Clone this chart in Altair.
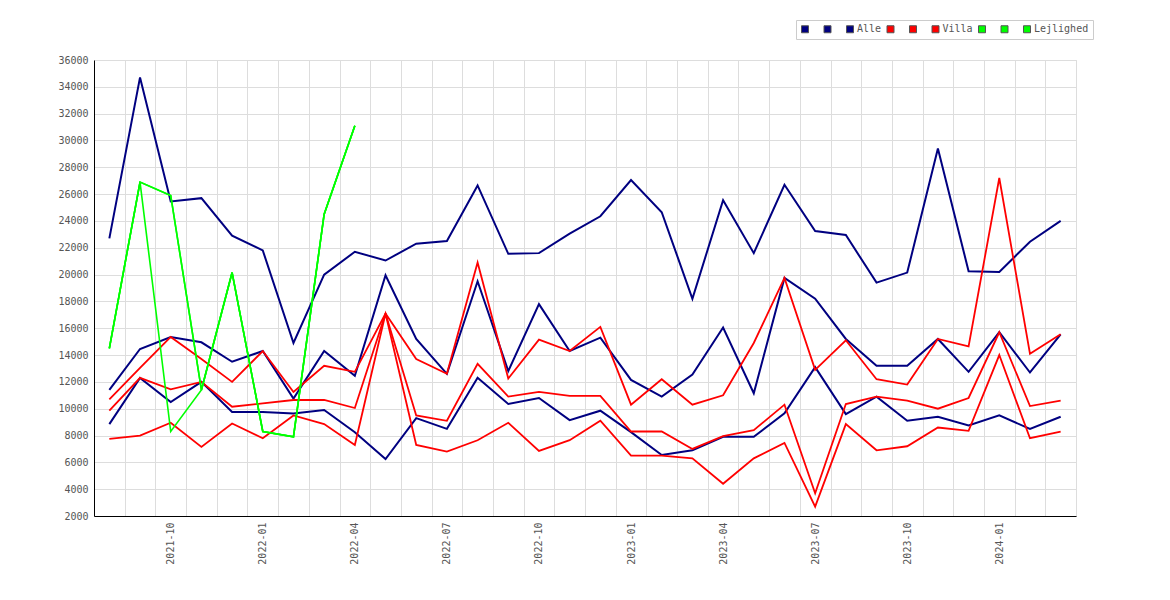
import altair as alt
import pandas as pd

months = [
    "2021-08", "2021-09", "2021-10", "2021-11", "2021-12",
    "2022-01", "2022-02", "2022-03", "2022-04", "2022-05", "2022-06",
    "2022-07", "2022-08", "2022-09", "2022-10", "2022-11", "2022-12",
    "2023-01", "2023-02", "2023-03", "2023-04", "2023-05", "2023-06",
    "2023-07", "2023-08", "2023-09", "2023-10", "2023-11", "2023-12",
    "2024-01", "2024-02", "2024-03",
]

alle_1 = [22700, 34700, 25450, 25700, 22900, 21800, 14900, 20000, 21700, 21050, 22300,
          22500, 26650, 21550, 21600, 23050, 24350, 27050, 24650, 18200, 25550, 21600,
          26700, 23250, 22950, 19400, 20150, 29400, 20250, 20200, 22450, 24000]
alle_2 = [11400, 14450, 15350, 14950, 13500, 14300, 10750, 14300, 12450, 19950, 15200,
          12600, 19500, 12800, 17800, 14300, 15300, 12150, 10900, 12550, 16050, 11150,
          19750, 18200, 15200, 13200, 13200, 15200, 12750, 15700, 12700, 15550]
alle_3 = [8850, 12300, 10500, 12000, 9750, 9750, 9650, 9900, 8250, 6250, 9300,
          8500, 12300, 10350, 10800, 9150, 9850, 8250, 6550, 6900, 7900, 7900,
          9650, 13100, 9600, 10900, 9100, 9400, 8750, 9500, 8500, 9400]

villa_1 = [10700, 13050, 15350, 13700, 12000, 14300, 11250, 13200, 12750, 17100, 13700,
           12600, 20900, 12250, 15150, 14300, 16100, 10300, 12200, 10300, 11000, 14900,
           19750, 12900, 15100, 12200, 11800, 15200, 14650, 27200, 14100, 15550]
villa_2 = [9850, 12300, 11450, 12000, 10150, 10400, 10650, 10650, 10050, 17100, 9500,
           9100, 13350, 10900, 11250, 10950, 10950, 8300, 8300, 7000, 7950, 8400,
           10300, 3700, 10350, 10900, 10600, 10000, 10800, 15700, 10200, 10600]
villa_3 = [7750, 8000, 8950, 7150, 8900, 7800, 9500, 8850, 7300, 17100, 7300,
           6800, 7650, 8950, 6850, 7650, 9100, 6500, 6500, 6300, 4400, 6300,
           7450, 2700, 8850, 6900, 7200, 8600, 8350, 14000, 7800, 8300]

lejl_1 = [14500, 26900, 25900, 11400, 20150, 8300, 7900, 24500, 31100] + [None] * 23
lejl_2 = [14500, 26900, 8300, 11400, 20150, 8300, 7900, 24500, 31100] + [None] * 23
lejl_3 = [14500, 26900, 25900, 11400, 20150, 8300, 7900, 24500, 31100] + [None] * 23

series_names = ["Alle_1", "Alle_2", "Alle",
                "Villa_1", "Villa_2", "Villa",
                "Lejlighed_1", "Lejlighed_2", "Lejlighed"]
series_values = [alle_1, alle_2, alle_3, villa_1, villa_2, villa_3, lejl_1, lejl_2, lejl_3]
groups = ["Alle", "Villa", "Lejlighed"]
group_colors = ["#000080", "#ff0000", "#00ff00"]
group_widths = [2.0, 1.6, 1.6]
series_colors = [c for c in group_colors for _ in range(3)]

rows = []
for name, vals in zip(series_names, series_values):
    for m, v in zip(months, vals):
        if v is not None:
            rows.append({"month": m, "serie": name, "group": name.split("_")[0], "value": v})
df = pd.DataFrame(rows)

FONT = "DejaVu Sans Mono"
GREY = "#555555"
quarter_expr = "indexof(['01','04','07','10'], substring(datum.label, 5, 7)) >= 0 ? datum.label : ''"
legend_label_expr = "indexof(datum.label, '_') >= 0 ? '\u2800' : datum.label"

x_enc = alt.X(
    "month:N",
    sort=months,
    scale=alt.Scale(type="band", domain=months, paddingInner=0, paddingOuter=0),
    bandPosition=0.5,
    axis=alt.Axis(
        title=None, labelAngle=270, labelExpr=quarter_expr, tickBand="extent",
        ticks=False, grid=True, gridColor="#dddddd", domainColor="black",
        labelFont=FONT, labelFontSize=10, labelColor=GREY, labelPadding=6,
        labelOverlap=False,
    ),
)
y_enc = alt.Y(
    "value:Q",
    scale=alt.Scale(domain=[2000, 36000], nice=False, zero=False),
    axis=alt.Axis(
        title=None, values=list(range(2000, 36001, 2000)), format="d", ticks=False, grid=True,
        gridColor="#dddddd", domainColor="black", labelFont=FONT, labelFontSize=10,
        labelColor=GREY, labelPadding=6,
    ),
)

lines = alt.Chart(df).mark_line().encode(
    x=x_enc,
    y=y_enc,
    detail="serie:N",
    stroke=alt.Stroke("group:N", scale=alt.Scale(domain=groups, range=group_colors), legend=None),
    strokeWidth=alt.StrokeWidth("group:N", scale=alt.Scale(domain=groups, range=group_widths), legend=None),
)

legend_pts = alt.Chart(df).mark_point(shape="square", filled=True, opacity=0).encode(
    x=x_enc,
    y=y_enc,
    fill=alt.Fill(
        "serie:N",
        scale=alt.Scale(domain=series_names, range=series_colors),
        legend=alt.Legend(
            title=None, orient="none", legendX=702, legendY=-40,
            direction="horizontal", columns=9,
            labelExpr=legend_label_expr,
            symbolType="square", symbolSize=49, symbolOpacity=1,
            symbolStrokeColor="#555555", symbolStrokeWidth=1,
            labelFont=FONT, labelFontSize=10, labelColor=GREY,
            labelOffset=2, columnPadding=2.5, padding=4,
            strokeColor="#cccccc", fillColor="white",
        ),
    ),
)

chart = alt.layer(lines, legend_pts).properties(
    width=982,
    height=456,
    autosize=alt.AutoSizeParams(type="none"),
    padding={"left": 86, "top": 52, "right": 40, "bottom": 60},
).configure_view(stroke="#dddddd")

chart.save("out.html", embed_options={"renderer": "svg", "actions": False})
